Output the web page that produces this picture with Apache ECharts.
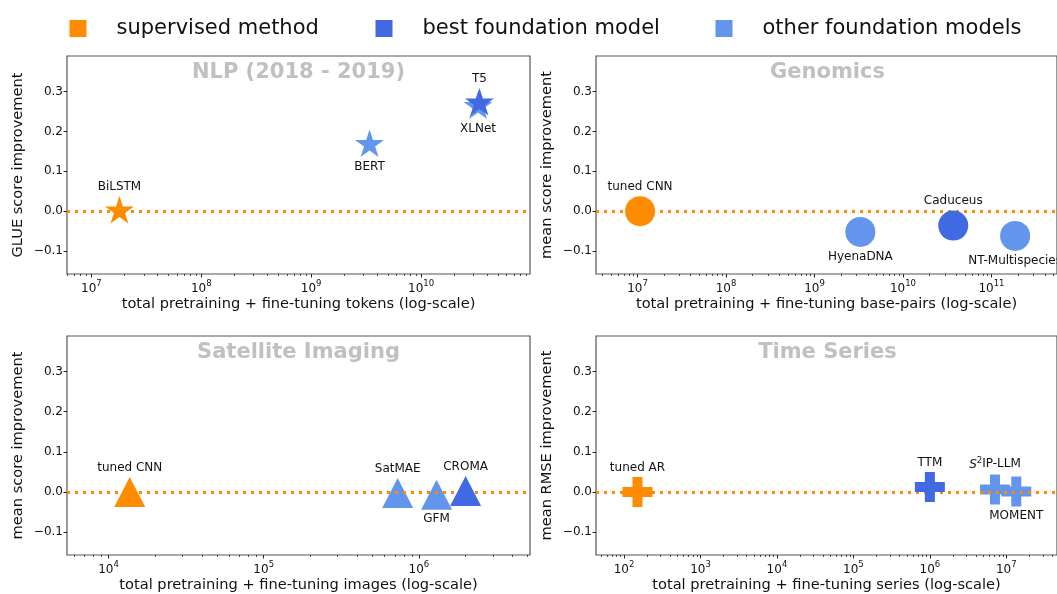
<!DOCTYPE html>
<html>
<head>
<meta charset="utf-8">
<script src="https://cdn.jsdelivr.net/npm/echarts@6/dist/echarts.min.js"></script>
<style>
  html, body { margin: 0; padding: 0; background: #fff; }
  #chart { width: 1057px; height: 594px; }
</style>
</head>
<body>
<div id="chart"></div>
<script>
// ---- data ----
var nlpModels = ['BiLSTM', 'XLNet', 'T5', 'BERT'];
var nlpTokens = [1.8e7, 3.3e10, 3.4e10, 3.4e9];
var nlpGain   = [0.0, 0.262, 0.271, 0.167];
var nlpKind   = ['supervised', 'other', 'best', 'other'];

var genModels    = ['tuned CNN', 'HyenaDNA', 'Caduceus', 'NT-Multispecies'];
var genBasePairs = [1.07e7, 3.3e9, 3.7e10, 1.85e11];
var genGain      = [0.0, -0.052, -0.036, -0.062];
var genKind      = ['supervised', 'other', 'best', 'other'];

var satModels = ['tuned CNN', 'SatMAE', 'GFM', 'CROMA'];
var satImages = [1.37e4, 7.3e5, 1.3e6, 2.0e6];
var satGain   = [0.0, -0.003, -0.007, 0.002];
var satKind   = ['supervised', 'other', 'other', 'best'];

var tsModels = ['tuned AR', 'TTM', 'S2IP-LLM', 'MOMENT'];
var tsSeries = [150, 1.0e6, 7.1e6, 1.35e7];
var tsGain   = [0.0, 0.012, 0.006, 0.001];
var tsKind   = ['supervised', 'best', 'other', 'other'];

var yTicks   = [-0.1, 0, 0.1, 0.2, 0.3];
var nlpXTicks = [1e7, 1e8, 1e9, 1e10];
var genXTicks = [1e7, 1e8, 1e9, 1e10, 1e11];
var satXTicks = [1e4, 1e5, 1e6];
var tsXTicks  = [1e2, 1e3, 1e4, 1e5, 1e6, 1e7];

var kindNames = { supervised: 'supervised method', best: 'best foundation model', other: 'other foundation models' };
var kindColors = { supervised: '#FF8C00', best: '#4169E1', other: '#6495ED' };

// which side of the marker each name sits
var labelSide = {
  'BiLSTM': 'top', 'T5': 'top', 'XLNet': 'bottom', 'BERT': 'bottom',
  'tuned CNN': 'top', 'HyenaDNA': 'bottom', 'Caduceus': 'top', 'NT-Multispecies': 'bottom',
  'SatMAE': 'top', 'GFM': 'bottom', 'CROMA': 'top',
  'tuned AR': 'top', 'TTM': 'top', 'S2IP-LLM': 'top', 'MOMENT': 'bottom'
};

var STAR = 'path://M100,0L122.45,69.1L195.1,69.1L136.3,111.8L158.8,180.9L100,138.2L41.2,180.9L63.7,111.8L4.9,69.1L77.55,69.1Z';
var PLUS = 'path://M2,0H4V2H6V4H4V6H2V4H0V2H2Z';

var panels = [
  { title: 'NLP (2018 - 2019)', names: nlpModels, xs: nlpTokens, ys: nlpGain, kinds: nlpKind, ticks: nlpXTicks,
    xName: 'total pretraining + fine-tuning tokens (log-scale)', yName: 'GLUE score improvement',
    range: [6.0e6, 9.8e10], grid: { left: 67, top: 56, width: 463, height: 218 },
    symbol: STAR, size: [29, 27.5], offset: [0, -1.4] },
  { title: 'Genomics', names: genModels, xs: genBasePairs, ys: genGain, kinds: genKind, ticks: genXTicks,
    xName: 'total pretraining + fine-tuning base-pairs (log-scale)', yName: 'mean score improvement',
    range: [3.4e6, 5.5e11], grid: { left: 596, top: 56, width: 463, height: 218 },
    symbol: 'circle', size: 30, offset: [0, 0] },
  { title: 'Satellite Imaging', names: satModels, xs: satImages, ys: satGain, kinds: satKind, ticks: satXTicks,
    xName: 'total pretraining + fine-tuning images (log-scale)', yName: 'mean score improvement',
    range: [5.4e3, 5.2e6], grid: { left: 67, top: 336, width: 463, height: 219 },
    symbol: 'triangle', size: [31, 30], offset: [0, 0] },
  { title: 'Time Series', names: tsModels, xs: tsSeries, ys: tsGain, kinds: tsKind, ticks: tsXTicks,
    xName: 'total pretraining + fine-tuning series (log-scale)', yName: 'mean RMSE improvement',
    range: [43, 4.6e7], grid: { left: 596, top: 336, width: 463, height: 219 },
    symbol: PLUS, size: 30, offset: [0, 0] }
];

function minorTicks(range) {
  var out = [];
  var lo = Math.floor(Math.log10(range[0])), hi = Math.ceil(Math.log10(range[1]));
  for (var k = lo; k <= hi; k++) {
    for (var m = 2; m <= 9; m++) {
      var v = m * Math.pow(10, k);
      if (v >= range[0] && v <= range[1]) out.push(v);
    }
  }
  return out;
}

var fontFam = 'DejaVu Sans';
var grids = [], xAxes = [], yAxes = [], titles = [], series = [];

panels.forEach(function (p, i) {
  grids.push({ left: p.grid.left, top: p.grid.top, width: p.grid.width, height: p.grid.height,
    show: true, borderColor: '#555', borderWidth: 1.2, backgroundColor: 'transparent', containLabel: false });

  titles.push({ text: p.title, left: p.grid.left + p.grid.width / 2, top: p.grid.top + 6, textAlign: 'center', padding: 0,
    textStyle: { fontFamily: fontFam, fontSize: 21, fontWeight: 'bold', color: '#c0c0c0' } });

  // main (major ticks) axis
  xAxes.push({
    type: 'log', logBase: 10, gridIndex: i, min: p.range[0], max: p.range[1], position: 'bottom',
    name: p.xName, nameLocation: 'middle', nameGap: 23,
    nameTextStyle: { fontFamily: fontFam, fontSize: 14.6, color: '#111' },
    axisLine: { show: false, onZero: false },
    axisTick: { show: true, inside: false, length: 3.5, customValues: p.ticks, lineStyle: { color: '#222', width: 1 } },
    axisLabel: { customValues: p.ticks, margin: 5, color: '#111', fontFamily: fontFam, fontSize: 12,
      formatter: function (v) { return '{b|10}{s|' + Math.round(Math.log10(v)) + '}'; },
      rich: { b: { fontFamily: fontFam, fontSize: 12, color: '#111', verticalAlign: 'bottom', lineHeight: 16 },
              s: { fontFamily: fontFam, fontSize: 8.5, color: '#111', verticalAlign: 'top', lineHeight: 16 } } },
    splitLine: { show: false }
  });
  // minor ticks axis
  xAxes.push({
    type: 'log', logBase: 10, gridIndex: i, min: p.range[0], max: p.range[1], position: 'bottom',
    axisLine: { show: false, onZero: false },
    axisTick: { show: true, inside: false, length: 2, customValues: minorTicks(p.range), lineStyle: { color: '#222', width: 0.8 } },
    axisLabel: { show: false },
    splitLine: { show: false }
  });

  yAxes.push({
    type: 'value', gridIndex: i, min: -0.1575, max: 0.389, position: 'left',
    name: p.yName, nameLocation: 'middle', nameGap: 41,
    nameTextStyle: { fontFamily: fontFam, fontSize: 14.6, color: '#111' },
    axisLine: { show: false, onZero: false },
    axisTick: { show: true, inside: false, length: 3.5, customValues: yTicks, lineStyle: { color: '#222', width: 1 } },
    axisLabel: { customValues: yTicks, margin: 4, color: '#111', fontFamily: fontFam, fontSize: 12,
      formatter: function (v) { var s = Math.abs(v).toFixed(1); return v < 0 ? '\u2212' + s : s; } },
    splitLine: { show: false }
  });

  // zero reference line
  series.push({
    type: 'scatter', xAxisIndex: 2 * i, yAxisIndex: i, data: [], z: 1, silent: true,
    markLine: { silent: true, symbol: 'none', label: { show: false },
      lineStyle: { color: '#FF8C00', width: 3, type: [3, 5] }, data: [{ yAxis: 0 }] }
  });

  ['other', 'supervised', 'best'].forEach(function (k, order) {
    var pts = [];
    p.names.forEach(function (n, j) {
      if (p.kinds[j] !== k) return;
      pts.push({ name: n, value: [p.xs[j], p.ys[j]],
        label: { position: labelSide[n], distance: 3.5 } });
    });
    series.push({
      type: 'scatter', name: kindNames[k], xAxisIndex: 2 * i, yAxisIndex: i, z: 3 + order,
      symbol: p.symbol, symbolSize: p.size, symbolOffset: p.offset,
      itemStyle: { color: kindColors[k], opacity: 1 },
      label: { show: true, fontFamily: fontFam, fontSize: 12, color: '#111',
        formatter: function (q) { return q.name === 'S2IP-LLM' ? '{i|S}{s|2}IP-LLM' : q.name; },
        rich: { i: { fontFamily: fontFam, fontStyle: 'italic', fontSize: 12, color: '#111', verticalAlign: 'bottom', lineHeight: 15 },
                s: { fontFamily: fontFam, fontSize: 8.5, color: '#111', verticalAlign: 'top', lineHeight: 15 } } },
      emphasis: { disabled: true },
      data: pts
    });
  });
});

var legendBase = { top: 13, itemWidth: 17, itemHeight: 17, icon: 'rect', selectedMode: false,
  textStyle: { fontFamily: fontFam, fontSize: 21, color: '#111', padding: [0, 0, 0, 25] } };
var legends = [
  Object.assign({}, legendBase, { left: 64.5, data: [kindNames.supervised] }),
  Object.assign({}, legendBase, { left: 370.5, data: [kindNames.best] }),
  Object.assign({}, legendBase, { left: 710.5, data: [kindNames.other] })
];

var chart = echarts.init(document.getElementById('chart'), null, { renderer: 'canvas' });
chart.setOption({
  animation: false,
  backgroundColor: '#fff',
  textStyle: { fontFamily: fontFam },
  title: titles,
  legend: legends,
  grid: grids,
  xAxis: xAxes,
  yAxis: yAxes,
  series: series
});
</script>
</body>
</html>
